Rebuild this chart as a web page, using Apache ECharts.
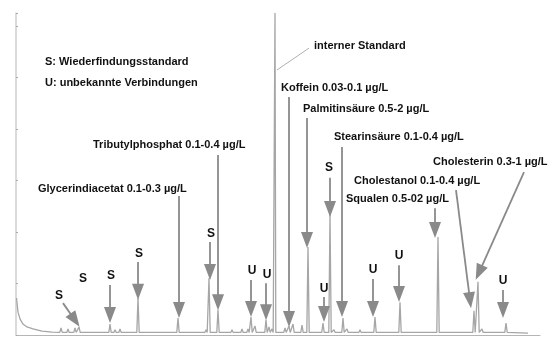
<!DOCTYPE html>
<html>
<head>
<meta charset="utf-8">
<script src="https://cdn.jsdelivr.net/npm/echarts@6/dist/echarts.min.js"></script>
<style>
  html, body { margin: 0; padding: 0; background: #fff; }
  #chart { width: 552px; height: 338px; }
</style>
</head>
<body>
<div id="chart"></div>
<script>
// retention time (min) / intensity (% of full scale)
const decayTimes = [0.05, 0.2, 0.4, 0.7, 1.1, 1.7, 2.6, 3.6];
const decayValues = [11.5, 7.1, 5.0, 3.4, 2.5, 1.9, 1.2, 0.9];

const peakTimes = [4.5, 5.2, 5.9, 6.3, 9.4, 9.9, 10.4, 12.2, 13.4, 15.2, 16.2, 17.9, 19.0, 19.3, 20.2,
  21.6, 22.6, 23.2, 23.5, 23.9, 25.0, 25.3, 25.6, 25.9, 26.9, 27.3, 27.7, 28.6, 29.2, 29.8, 30.7,
  31.4, 31.8, 32.7, 33.1, 34.4, 35.9, 37.2, 38.4, 39.4, 40.6, 42.2, 43.9, 45.2, 45.8, 46.2, 46.6,
  47.9, 49.0];
const peakValues = [2.2, 1.9, 2.2, 2.5, 3.4, 1.6, 1.9, 11.5, 1.2, 1.2, 5.3, 1.2, 1.6, 17.7, 7.8,
  1.6, 1.9, 1.9, 5.6, 2.8, 4.7, 2.5, 1.9, 100, 2.2, 2.8, 3.4, 3.1, 27.3, 1.2, 3.7,
  37.6, 1.6, 5.3, 1.9, 1.6, 5.6, 1.2, 10.2, 1.2, 1.2, 30.4, 1.2, 1.2, 7.5, 16.5, 1.9,
  1.2, 3.7];
const baseValue = 0.8;
const endPoint = [51.2, 0.6];

// annotation arrows: [fromTime, fromValue, toTime, toValue]
const arrows = [
  [4.7, 9.9, 5.9, 4.6],      // S
  [9.4, 15.5, 9.4, 6.2],     // S
  [12.2, 22.7, 12.2, 13.4],  // S
  [16.3, 43.2, 16.3, 7.8],   // Glycerindiacetat
  [19.4, 28.9, 19.4, 19.6],  // S
  [20.2, 55.9, 20.2, 10.2],  // Tributylphosphat
  [23.5, 17.1, 23.5, 8.1],   // U
  [25.0, 16.1, 25.0, 7.1],   // U
  [27.3, 73.9, 27.3, 5.0],   // Koffein
  [29.1, 67.4, 29.1, 29.5],  // Palmitinsäure
  [31.4, 48.8, 31.4, 39.1],  // S
  [30.8, 11.8, 30.8, 6.5],   // U
  [32.6, 58.4, 32.6, 8.1],   // Stearinsäure
  [35.7, 17.4, 35.7, 8.1],   // U
  [38.3, 21.7, 38.3, 12.7],  // U
  [41.9, 39.4, 41.9, 32.6],  // Squalen
  [44.0, 45.0, 45.4, 10.8],  // Cholestanol
  [50.8, 50.6, 46.3, 19.4],  // Cholesterin
  [48.7, 14.0, 48.7, 7.8]    // U
];
const standardLine = [29.3, 89.1, 26.1, 82.3];

// text labels [text, left px, middle px]
const compoundLabels = [
  ['S: Wiederfindungsstandard', 45, 63],
  ['U: unbekannte Verbindungen', 45, 84],
  ['Tributylphosphat 0.1-0.4 µg/L', 93, 146],
  ['Glycerindiacetat 0.1-0.3 µg/L', 38, 190],
  ['interner Standard', 314, 47],
  ['Koffein 0.03-0.1 µg/L', 281, 89],
  ['Palmitinsäure 0.5-2 µg/L', 303, 110],
  ['Stearinsäure 0.1-0.4 µg/L', 334, 138],
  ['Cholesterin 0.3-1 µg/L', 433, 163],
  ['Cholestanol 0.1-0.4 µg/L', 354, 182],
  ['Squalen 0.5-02 µg/L', 346, 200]
];
const peakLetters = [
  ['S', 59, 296], ['S', 83, 279], ['S', 111, 276], ['S', 139, 254], ['S', 211, 234],
  ['U', 252, 271], ['U', 267, 275], ['S', 329, 168], ['U', 324, 289], ['U', 373, 270],
  ['U', 399, 256], ['U', 503, 281]
];

// trace: decay, then narrow spikes on the baseline
const trace = decayTimes.map((t, i) => [t, decayValues[i]]);
peakTimes.forEach((t, i) => {
  const w = peakValues[i] > 50 ? 0.08 : 0.12;
  trace.push([t - w, baseValue], [t, peakValues[i]], [t + w, baseValue]);
});
trace.push(endPoint);

const font = 'bold 11px "Liberation Sans", Arial, sans-serif';
const graphics = compoundLabels.map(l => ({
  type: 'text', left: l[1], top: l[2] - 7,
  style: { text: l[0], font: font, fill: '#111' }
})).concat(peakLetters.map(l => ({
  type: 'text', x: l[1], y: l[2],
  style: { text: l[0], font: 'bold 12px "Liberation Sans", Arial, sans-serif', fill: '#111',
    align: 'center', verticalAlign: 'middle' }
})));

const chart = echarts.init(document.getElementById('chart'));
chart.setOption({
  backgroundColor: '#fff',
  animation: false,
  grid: { left: 16, right: 12, top: 13, bottom: 3 },
  xAxis: {
    type: 'value', min: 0, max: 52.4,
    axisLine: { show: true, lineStyle: { color: '#b5b5b5' } },
    axisTick: { show: false }, axisLabel: { show: false }, splitLine: { show: false }
  },
  yAxis: {
    type: 'value', min: 0, max: 100, interval: 16,
    axisLine: { show: true, lineStyle: { color: '#cfcfcf', width: 1.5 } },
    axisTick: { show: true, inside: true, length: 2, lineStyle: { color: '#aaa' } },
    axisLabel: { show: false }, splitLine: { show: false }
  },
  series: [{
    type: 'line', data: trace, showSymbol: false, silent: true,
    lineStyle: { color: '#a6a6a6', width: 1.3 },
    markLine: {
      silent: true, animation: false,
      symbol: ['none', 'triangle'], symbolSize: 14,
      label: { show: false },
      lineStyle: { color: '#8a8a8a', width: 1.8, type: 'solid' },
      data: arrows.map(a => [
        { coord: [a[0], a[1]] },
        { coord: [a[2], a[3]], symbolSize: [12, 16] }
      ]).concat([[
        { coord: [standardLine[0], standardLine[1]], symbol: 'none',
          lineStyle: { color: '#9a9a9a', width: 0.8 } },
        { coord: [standardLine[2], standardLine[3]], symbol: 'none' }
      ]])
    }
  }],
  graphic: graphics
});
</script>
</body>
</html>
